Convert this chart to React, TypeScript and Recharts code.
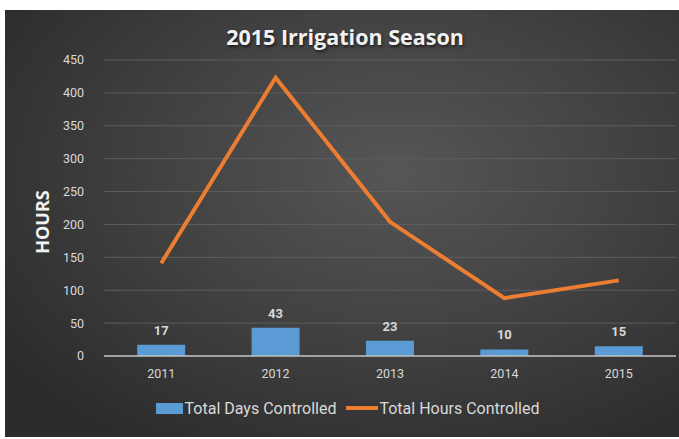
import { ComposedChart, Bar, Line, XAxis, YAxis, CartesianGrid, Legend, LabelList } from 'recharts';

const years = ['2011', '2012', '2013', '2014', '2015'];
const daysControlled = [17, 43, 23, 10, 15];
const hoursControlled = [141, 423, 204, 88, 115];
const yTicks = [0, 50, 100, 150, 200, 250, 300, 350, 400, 450];

const data = years.map((y, i) => ({ year: y, days: daysControlled[i], hours: hoursControlled[i] }));

const FONT = '"Liberation Sans Narrow", "Arial Narrow", Roboto, sans-serif';
const BLUE = '#5b9bd5';
const ORANGE = '#ed7d31';

// custom legend: blue box + orange thick line like excel
const renderLegend = (props: any) => {
  const items = props.payload || [];
  return (
    <div style={{ display: 'flex', justifyContent: 'center', alignItems: 'center', height: 40, fontFamily: FONT, fontSize: 16, color: '#d9d9d9', paddingLeft: 24 }}>
      {items.map((it: any) => (
        <div key={it.value} style={{ display: 'flex', alignItems: 'center', marginRight: 10 }}>
          {it.type === 'rect' ? (
            <div style={{ width: 27, height: 11, background: BLUE, marginRight: 2 }} />
          ) : (
            <div style={{ width: 32, height: 4, background: ORANGE, marginRight: 1 }} />
          )}
          <span>{it.value}</span>
        </div>
      ))}
    </div>
  );
};

export default function App() {
  return (
    <div style={{ position: 'fixed', left: 0, top: 0, width: 679, height: 439, background: '#fff' }}>
      <div
        style={{
          position: 'absolute',
          left: 5,
          top: 10,
          width: 674,
          height: 427,
          background: 'radial-gradient(ellipse 70% 75% at 58% 38%, #565656 0%, #444 45%, #2c2c2c 100%)',
        }}
      >
        <div
          style={{
            position: 'absolute',
            top: 12,
            width: '100%',
            textAlign: 'center',
            fontFamily: '"Open Sans", sans-serif',
            fontWeight: 700,
            fontSize: 21.5,
            color: '#f2f2f2',
            textShadow: '1px 2px 3px rgba(0,0,0,0.6)',
            paddingLeft: 6,
            boxSizing: 'border-box',
          }}
        >
          2015 Irrigation Season
        </div>
        <ComposedChart
          width={674}
          height={427}
          data={data}
          margin={{ top: 50, right: 3, left: 0, bottom: 9 }}
          barCategoryGap="29%"
        >
          <CartesianGrid vertical={false} stroke="#5e5e5e" strokeWidth={1} />
          <XAxis
            dataKey="year"
            axisLine={{ stroke: '#bfbfbf', strokeWidth: 1.5 }}
            tickLine={false}
            tickSize={0}
            tickMargin={13}
            height={32}
            tick={{ fill: '#d9d9d9', fontSize: 12.5, fontFamily: FONT }}
          />
          <YAxis
            domain={[0, 450]}
            ticks={yTicks}
            width={99}
            axisLine={false}
            tickLine={false}
            tickSize={0}
            tickMargin={20}
            tick={{ fill: '#d9d9d9', fontSize: 12.5, fontFamily: FONT }}
            label={(p: any) => (
              <text
                x={44}
                y={p.viewBox.y + p.viewBox.height / 2 + 14}
                transform={`rotate(-90, 44, ${p.viewBox.y + p.viewBox.height / 2 + 14})`}
                textAnchor="middle"
                fill="#f2f2f2"
                fontWeight={700}
                fontSize={18}
                fontFamily='"Open Sans", sans-serif'
              >
                HOURS
              </text>
            )}
          />
          <Legend verticalAlign="bottom" height={40} content={renderLegend} />
          <Bar dataKey="days" name="Total Days Controlled" fill={BLUE} legendType="rect" isAnimationActive={false}>
            <LabelList dataKey="days" position="top" offset={10} fill="#d9d9d9" fontSize={13} fontWeight={700} fontFamily={FONT} />
          </Bar>
          <Line
            dataKey="hours"
            name="Total Hours Controlled"
            type="linear"
            stroke={ORANGE}
            strokeWidth={4}
            dot={false}
            activeDot={false}
            legendType="line"
            isAnimationActive={false}
          />
        </ComposedChart>
      </div>
    </div>
  );
}
